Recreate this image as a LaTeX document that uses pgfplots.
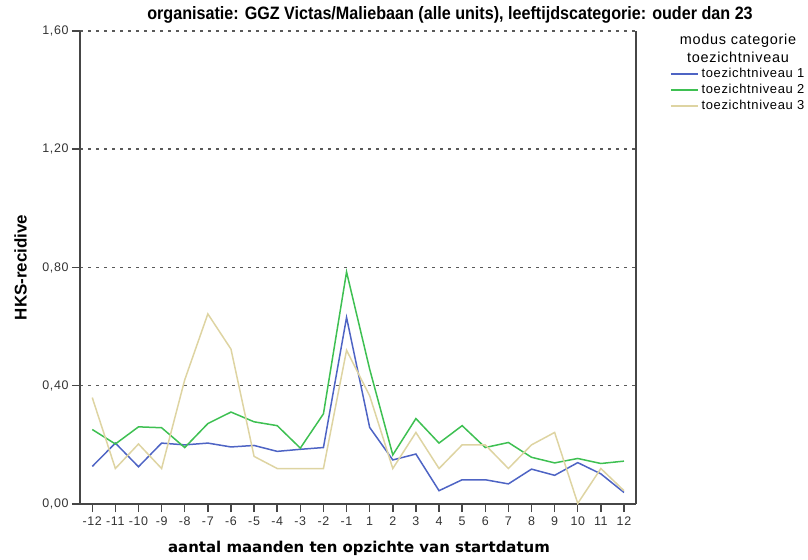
\documentclass[border=0pt]{standalone}
\usepackage{fontspec}
\setmainfont{Liberation Sans}
\newfontfamily\smallfont[LetterSpace=5]{Liberation Sans}
\newfontfamily\narrowfont[FakeStretch=0.9]{Liberation Sans}
\newfontfamily\dejavu{DejaVu Sans}
\usepackage{pgfplots}
\usepackage{pgfplotstable}
\pgfplotsset{compat=1.18}

\definecolor{tz1}{RGB}{78,100,196}
\definecolor{tz2}{RGB}{62,192,82}
\definecolor{tz3}{RGB}{222,212,162}
\definecolor{axisgray}{RGB}{70,70,70}

% idx = category position, m = month
\pgfplotstableread{
idx m   t1    t2    t3
0  -12 0.127 0.252 0.360
1  -11 0.206 0.203 0.120
2  -10 0.126 0.261 0.203
3  -9  0.206 0.258 0.120
4  -8  0.200 0.191 0.420
5  -7  0.206 0.272 0.643
6  -6  0.193 0.311 0.524
7  -5  0.198 0.278 0.161
8  -4  0.178 0.265 0.120
9  -3  0.185 0.189 0.120
10 -2  0.191 0.305 0.120
11 -1  0.631 0.785 0.520
12  1  0.259 0.456 0.366
13  2  0.149 0.166 0.120
14  3  0.169 0.289 0.242
15  4  0.045 0.206 0.120
16  5  0.082 0.265 0.200
17  6  0.082 0.191 0.200
18  7  0.068 0.208 0.120
19  8  0.118 0.158 0.200
20  9  0.097 0.139 0.242
21 10  0.140 0.154 0.002
22 11  0.102 0.137 0.120
23 12  0.039 0.145 0.045
}\data

\begin{document}
\begin{tikzpicture}
\useasboundingbox (0bp,0bp) rectangle (808bp,560bp);
\begin{axis}[
    at={(80bp,56bp)}, anchor=south west,
    scale only axis,
    width=556bp, height=473bp,
    xmin=-0.53, xmax=23.52,
    ymin=0, ymax=1.6,
    axis x line*=bottom, axis y line*=left,
    axis line style={-, line width=1.5bp, axisgray},
    xtick={0,...,23},
    xticklabels={-12,-11,-10,-9,-8,-7,-6,-5,-4,-3,-2,-1,1,2,3,4,5,6,7,8,9,10,11,12},
    ytick={0,0.4,0.8,1.2,1.6},
    tick align=outside,
    major tick length=8bp,
    tick style={line width=1.5bp, axisgray},
    ymajorgrids,
    grid style={dash pattern=on 3bp off 5bp, line width=1.5bp, gray!70!black},
    ticklabel style={font=\smallfont\fontsize{12.5}{15}\selectfont, text=black!80},
    yticklabel style={/pgf/number format/.cd, fixed, fixed zerofill, precision=2, use comma, assume math mode=true},
    xticklabel style={yshift=-1bp},
    legend style={at={(axis description cs:1.061,0.9197)}, anchor=north west,
        draw=none, fill=none, inner sep=0pt, row sep=6bp,
        font=\smallfont\fontsize{13}{15}\selectfont,
        nodes={inner sep=0pt, text height=8bp, text depth=2bp}},
    legend cell align=left,
    legend image code/.code={\draw[#1] (0bp,0bp) -- (27bp,0bp);},
    /tikz/every odd column/.append style={column sep=3bp},
    clip=false,
]
\addplot[tz1, line width=1.5bp] table[x=idx, y=t1] {\data};
\addlegendentry{toezichtniveau 1}
\addplot[tz2, line width=1.5bp] table[x=idx, y=t2] {\data};
\addlegendentry{toezichtniveau 2}
\addplot[tz3, line width=1.5bp] table[x=idx, y=t3] {\data};
\addlegendentry{toezichtniveau 3}
\draw[line width=1.5bp, axisgray] (rel axis cs:1,0) -- (rel axis cs:1,1);
\end{axis}
\node[font=\narrowfont\bfseries\fontsize{18}{21}\selectfont] at (450bp,545bp)
  {organisatie: GGZ Victas/Maliebaan (alle units), leeftijdscategorie: ouder dan 23};
\node[font=\dejavu\bfseries\fontsize{15}{18}\selectfont] at (359bp,12bp)
  {aantal maanden ten opzichte van startdatum};
\node[rotate=90, font=\bfseries\fontsize{17}{20}\selectfont] at (20.5bp,292.5bp) {HKS-recidive};
\node[font=\smallfont\fontsize{14.5}{17}\selectfont] at (738bp,519bp) {modus categorie};
\node[font=\smallfont\fontsize{14.5}{17}\selectfont] at (738bp,503bp) {toezichtniveau};
\end{tikzpicture}
\end{document}
